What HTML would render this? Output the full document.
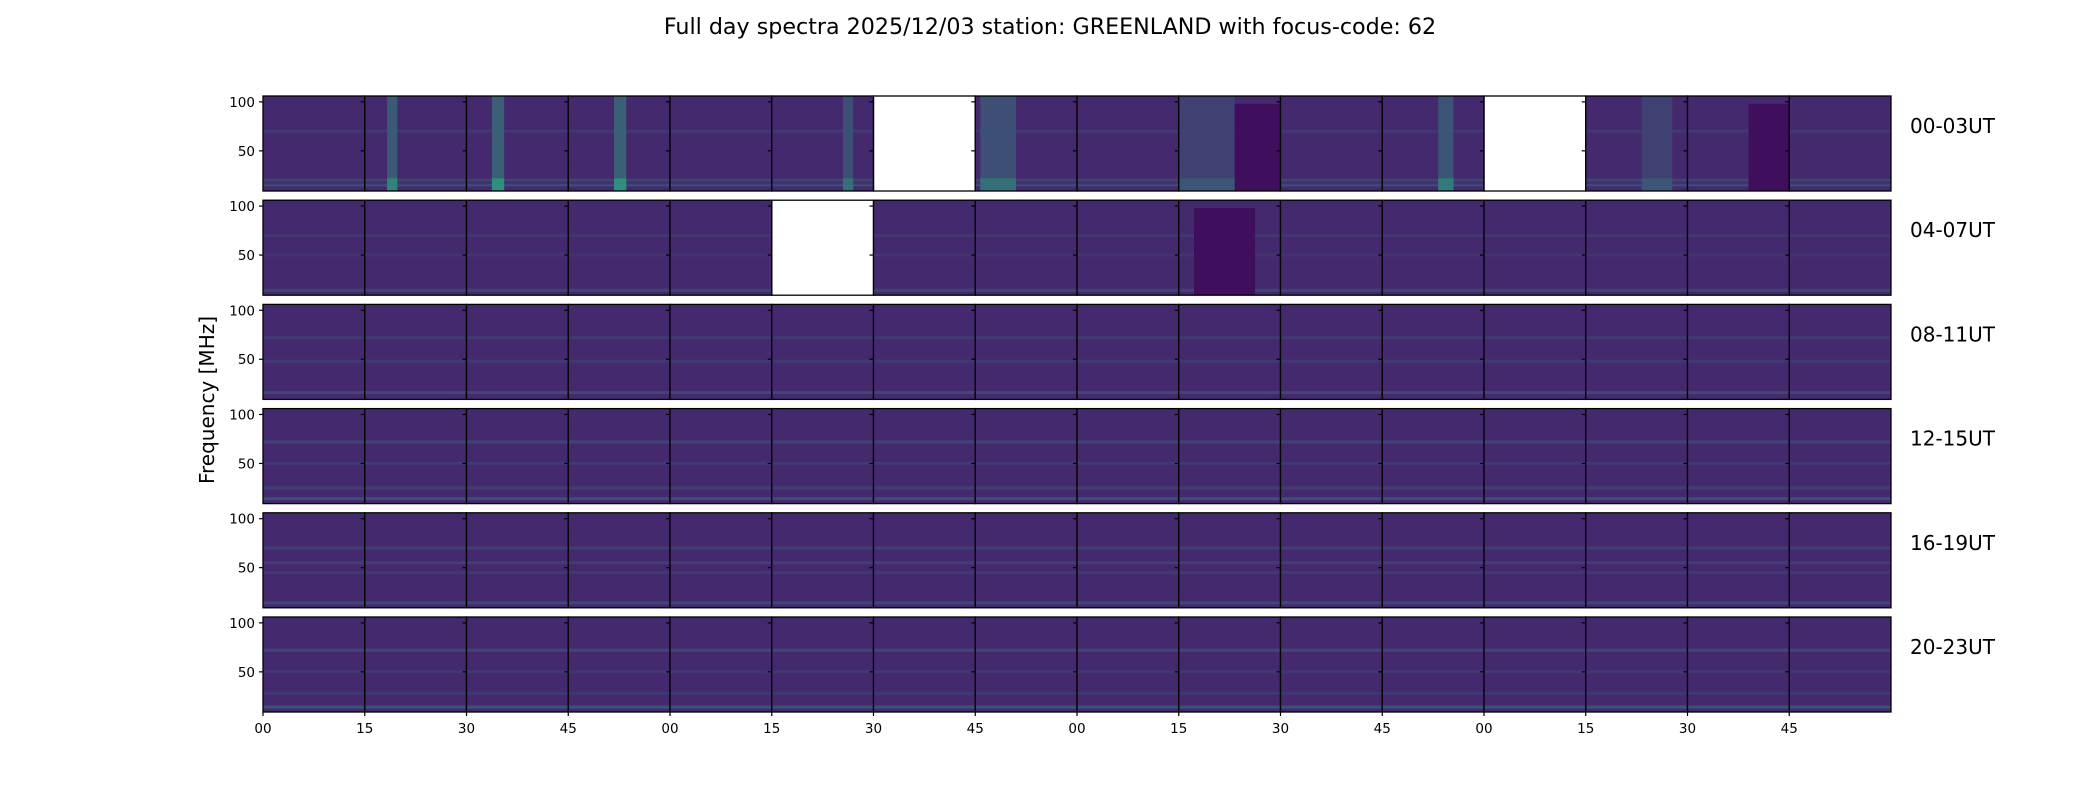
<!DOCTYPE html>
<html><head><meta charset="utf-8"><style>
body{margin:0;background:#fff;}
svg{display:block;font-family:"DejaVu Sans","Liberation Sans",sans-serif;}
</style></head><body>
<svg id="fig" width="2100" height="800" xmlns="http://www.w3.org/2000/svg">
<text x="1050" y="34" font-size="22.2" text-anchor="middle">Full day spectra 2025/12/03 station: GREENLAND with focus-code: 62</text>
<text x="214" y="400" font-size="20" text-anchor="middle" transform="rotate(-90 214 400)">Frequency [MHz]</text>
<g id="plot"></g>
</svg>
<script>
const rowLabels=["00-03UT","04-07UT","08-11UT","12-15UT","16-19UT","20-23UT"];
const xTickLabels=["00","15","30","45","00","15","30","45","00","15","30","45","00","15","30","45"];
const yTickValues=[50,100];
const blankPanels=[[0,6],[0,12],[1,5]];
// horizontal emission lines per row (MHz, strength 0-1)
const rowLineFreqs2=[[[70,0.3],[15,0.6],[20,0.5]],[[70,0.25],[50,0.2],[14,0.5]],[[72,0.3],[48,0.3],[16,0.6]],[[72,0.5],[50,0.3],[25,0.4],[14,0.7]],[[70,0.4],[55,0.4],[45,0.3],[14,0.6]],[[72,0.6],[50,0.3],[28,0.3],[14,0.8]]];
// bright vertical bands in row 0: [col, start fraction, width fraction, strength]
const brightBands=[[1,0.22,0.1,0.9],[2,0.25,0.12,1.0],[3,0.45,0.12,1.0],[5,0.7,0.1,0.7],[7,0.05,0.35,0.7],[9,0.0,0.55,0.45],[11,0.55,0.15,0.8],[13,0.55,0.3,0.45]];
const darkBlocks=[[0,9,0.55,0.45],[0,14,0.6,0.4],[1,9,0.15,0.6]];
const yMin=9,yMax=106;
const X0=263,X1=1891,nCols=16,Y0=96,rowPitch=104.2,rowH=95;
const pw=(X1-X0)/nCols;
const NS="http://www.w3.org/2000/svg";
const plot=document.getElementById('plot');
function yScale(r,v){return Y0+r*rowPitch+rowH*(yMax-v)/(yMax-yMin);}
function xScale(c){return X0+c*pw;}
function mk(tag,attrs){const e=document.createElementNS(NS,tag);for(const k in attrs)e.setAttribute(k,attrs[k]);plot.appendChild(e);return e;}
function mix(s){const a=[69,41,111],b=[42,161,127];return `rgb(${a.map((v,i)=>Math.round(v+(b[i]-v)*s)).join(',')})`;}
function isBlank(r,c){return blankPanels.some(p=>p[0]===r&&p[1]===c);}
for(let r=0;r<rowLabels.length;r++){
  for(let c=0;c<nCols;c++){
    const x=xScale(c),y=Y0+r*rowPitch;
    if(!isBlank(r,c)){
      const bg=mk('rect',{x:x,y:y,width:pw,height:rowH,fill:'#45296f'});
      
      
      rowLineFreqs2[r].forEach(([f,s])=>{
        const ln=mk('rect',{x:x,y:yScale(r,f)-1.5,width:pw,height:3,fill:mix(s*0.45)});
        
        
      });
      if(r===0){
        brightBands.filter(b=>b[0]===c).forEach(([bc,st,w,s])=>{
          const bb=mk('rect',{x:x+st*pw,y:y,width:w*pw,height:rowH,fill:mix(s*0.5),opacity:0.9});
          
          
          const bl=mk('rect',{x:x+st*pw,y:yScale(r,22),width:w*pw,height:yScale(r,yMin)-yScale(r,22),fill:mix(s*0.85)});
          
          
        });
      }
      darkBlocks.filter(d=>d[0]===r&&d[1]===c).forEach(([dr,dc,st,w])=>{
        const db=mk('rect',{x:x+st*pw,y:yScale(r,98),width:w*pw,height:yScale(r,yMin)-yScale(r,98),fill:'#3f0f5e'});
        
        
      });
    }
    const fr=mk('rect',{x:x,y:y,width:pw,height:rowH,fill:'none',stroke:'#000','stroke-width':1.3});
    
    
    yTickValues.forEach(v=>{
      const t=mk('line',{x1:x-4,x2:x,y1:yScale(r,v),y2:yScale(r,v),stroke:'#000','stroke-width':1.2});
      
      
    });
  }
  yTickValues.forEach(v=>{
    const tl=mk('text',{x:X0-8,y:yScale(r,v)+5,'font-size':13.5,'text-anchor':'end'});
    tl.textContent=v;
    
    
  });
  const rl=mk('text',{x:1910,y:Y0+r*rowPitch+37,'font-size':20});
  rl.textContent=rowLabels[r];
  
  
}
const yb=Y0+5*rowPitch+rowH;
xTickLabels.forEach((lab,i)=>{
  const t=mk('line',{x1:xScale(i),x2:xScale(i),y1:yb,y2:yb+4,stroke:'#000','stroke-width':1.2});
  
  
  const tl=mk('text',{x:xScale(i),y:yb+21,'font-size':13.5,'text-anchor':'middle'});
  tl.textContent=lab;
  
  
});
</script>
</body></html>
